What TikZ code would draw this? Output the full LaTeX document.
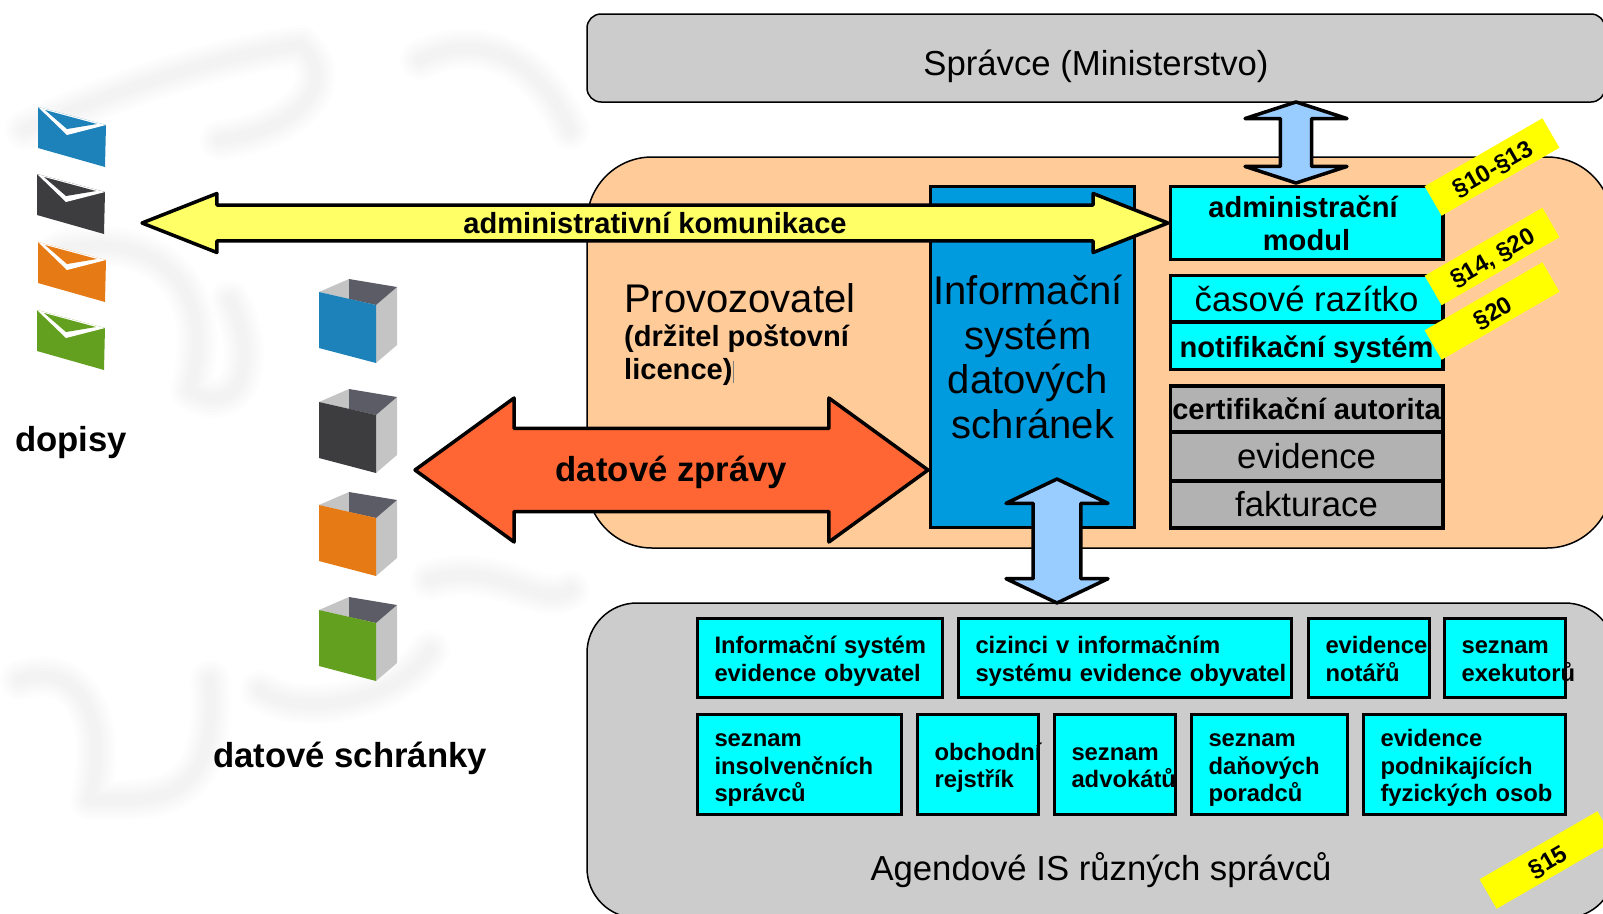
\documentclass[tikz,border=0pt]{standalone}
\usepackage{fontspec}
\setmainfont{Liberation Sans}
\usepackage{tikz}
\usetikzlibrary{positioning}
\usetikzlibrary{shapes.arrows}
\newlength{\hgap}
\newlength{\vgap}
\newcommand{\fbig}{\fontsize{34.7}{40}\selectfont}
\newcommand{\fhuge}{\fontsize{40}{44.5}\selectfont}
\newcommand{\fmid}{\fontsize{29.1}{33}\selectfont\bfseries}
\newcommand{\fsmall}{\fontsize{23.8}{27.5}\selectfont\bfseries}
\newcommand{\ftag}{\fontsize{24}{26}\selectfont\bfseries}
\definecolor{peach}{HTML}{FFCC99}
\definecolor{panel}{HTML}{CCCCCC}
\definecolor{isblue}{HTML}{009ADF}
\definecolor{boxcyan}{HTML}{00FFFF}
\definecolor{skyarrow}{HTML}{99CCFF}
\definecolor{yelarrow}{HTML}{FFFF66}
\definecolor{orarrow}{HTML}{FF6633}
\definecolor{greybox}{HTML}{B2B2B2}
\definecolor{tagyellow}{HTML}{FFFF00}
\definecolor{icoblue}{HTML}{1E82BA}
\definecolor{icodark}{HTML}{3D3D40}
\definecolor{icoorange}{HTML}{E67A14}
\definecolor{icogreen}{HTML}{64A020}
\definecolor{icoback}{HTML}{5C5C66}
\definecolor{icoside}{HTML}{C4C4C4}
\tikzstyle{plate}=[draw, rectangle, line width=1.5pt, outer sep=0pt]
\tikzstyle{modul}=[draw, rectangle, fill=boxcyan, line width=3.5pt, outer sep=0pt, inner sep=0pt, minimum width=272.5pt, align=center]
\tikzstyle{service}=[modul, fill=greybox]
\tikzstyle{agbox}=[draw, rectangle, fill=boxcyan, line width=3pt, outer sep=0pt, inner sep=0pt, align=left, font=\fsmall, execute at begin node={\leftskip=17pt\rule{0pt}{26pt}}, execute at end node={\rule[-7pt]{0pt}{7pt}}]
\tikzstyle{tag}=[fill=tagyellow, rectangle, rotate=30, minimum width=136pt, minimum height=34pt, inner sep=0pt, font=\ftag, execute at begin node={\rule{0pt}{22pt}}]
\tikzstyle{block}=[draw, double arrow, line width=3.5pt, inner sep=0pt, outer sep=0pt, line join=round]
\tikzstyle{caption}=[inner sep=0pt, font=\fbig]
\tikzset{
	pics/envelope/.style={code={
		\fill [#1] (0,0) -- (68,18) -- (67,60) -- (0,41) -- cycle;
		\fill [white] (0,0) -- (68,18) -- (29,28) -- cycle;
		\fill [#1] (7,3) -- (59,17) -- (29,22) -- cycle;
	}},
	pics/mailbox/.style={code={
		\fill [icoside] (57,13) -- (78,-5) -- (78,53) -- (57,71) -- cycle;
		\fill [icoside] (0,0) -- (30,-13) -- (30,7) -- cycle;
		\fill [icoback] (30,-13) -- (78,-5) -- (57,13) -- (30,7) -- cycle;
		\fill [#1] (0,0) -- (57,13) -- (57,71) -- (0,56) -- cycle;
	}}
}

\begin{document}
\begin{tikzpicture}[x=1pt, y=-1pt]
	
	\setlength{\hgap}{16pt}
	\setlength{\vgap}{17pt}
	
	\useasboundingbox (0,0) rectangle (1603,913);
	
	% faint backdrop
	\foreach \w in {40,34,28,22,16,10} {
		\begin{scope}[black, opacity=0.006, line width=\w pt, line cap=round, line join=round]
			\draw (25,130) .. controls (120,90) and (200,60) .. (300,45) .. controls (340,80) and (300,130) .. (220,140);
			\draw (60,250) .. controls (150,230) and (220,280) .. (190,390) .. controls (240,420) and (260,360) .. (230,300);
			\draw (20,680) .. controls (80,660) and (110,720) .. (90,800) .. controls (150,800) and (220,810) .. (210,680);
			\draw (260,690) .. controls (300,720) and (400,700) .. (430,650);
			\draw (420,60) .. controls (480,30) and (540,60) .. (570,130);
			\draw (430,580) .. controls (500,560) and (540,610) .. (570,590);
		\end{scope}
	}
	
	% icons
	\pic at (38,107) {envelope=icoblue};
	\pic at (37,174) {envelope=icodark};
	\pic at (38,242) {envelope=icoorange};
	\pic at (37,310) {envelope=icogreen};
	
	\pic at (319,292) {mailbox=icoblue};
	\pic at (319,402) {mailbox=icodark};
	\pic at (319,505) {mailbox=icoorange};
	\pic at (319,610) {mailbox=icogreen};
	
	\node (dopisy) [caption] at (71,443) {\bfseries dopisy};
	\node (schranky) [caption] at (350,758) {\bfseries datové schránky};
	
	% panels
	\node (spravce) [plate, fill=panel, rounded corners=14pt, minimum width=1018pt, minimum height=88pt] at (1096,58) {};
	\node (spravceT) [caption] at (1096,66) {Správce (Ministerstvo)};
	
	\node (provoz) [plate, fill=peach, rounded corners=65pt, minimum width=1025pt, minimum height=391pt] at (1099.5,352.5) {};
	\node (provozT) [caption, font=\fhuge, anchor=west] at (624,298) {Provozovatel};
	\node (drzitel) [caption, font=\fmid, anchor=north west, align=left] at (624,325) {(držitel poštovní\\licence)};
	\draw [gray, line width=0.7pt] (733,361) -- (733,383);
	
	\node (agenda) [plate, fill=panel, rounded corners=50pt, minimum width=1028pt, minimum height=315pt] at (1101,760.5) {};
	\node (agendaT) [caption] at (1101,870) {Agendové IS různých správců};
	
	% blue system
	\node (isds) [draw, rectangle, fill=isblue, line width=3.5pt, outer sep=0pt, minimum width=204pt, minimum height=341pt] at (1032.5,357) {};
	\node (isdsT) [caption, font=\fhuge, align=center] at (1028,357) {Informační\\systém\\datových\\\hspace*{10pt}schránek};
	
	% module column
	\node (admin) [modul, minimum height=73pt, font=\fmid] at (1306.5,223) {administrační\hspace*{7pt}\\modul};
	\node (razitko) [modul, below=\hgap of admin, minimum height=46.5pt, font=\fbig] {časové razítko};
	\node (notif) [modul, below=0pt of razitko, minimum height=47.5pt, font=\fmid] {\rule{0pt}{29pt}notifikační systém};
	\node (cert) [service, below=16.5pt of notif, minimum height=46pt, font=\fmid] {certifikační autorita};
	\node (evid) [service, below=0pt of cert, minimum height=49pt, font=\fbig] {evidence};
	\node (faktura) [service, below=0pt of evid, minimum height=47pt, font=\fbig] {fakturace};
	
	% agenda registers
	\node (ieo) [agbox, text width=245pt, minimum height=79pt, anchor=north west] at (697.5,618.5) {Informační systém\\evidence obyvatel};
	\node (cizinci) [agbox, text width=333pt, minimum height=79pt, right=\hgap of ieo] {cizinci v informačním\\systému evidence obyvatel};
	\node (notari) [agbox, text width=121pt, minimum height=79pt, right=\vgap of cizinci] {evidence\\notářů};
	\node (exekutori) [agbox, text width=121pt, minimum height=79pt, right=15pt of notari] {seznam\\exekutorů};
	
	\node (insolv) [agbox, text width=204pt, minimum height=100pt, below=\vgap of ieo.south west, anchor=north west] {seznam\\insolvenčních\\správců};
	\node (rejstrik) [agbox, text width=121pt, minimum height=100pt, right=\hgap of insolv] {obchodní\\rejstřík};
	\node (advokati) [agbox, text width=121pt, minimum height=100pt, right=\hgap of rejstrik] {seznam\\advokátů};
	\node (poradci) [agbox, text width=156pt, minimum height=100pt, right=\hgap of advokati] {seznam\\daňových\\poradců};
	\node (osoby) [agbox, text width=202pt, minimum height=100pt, right=\hgap of poradci] {evidence\\podnikajících\\fyzických osob};
	
	% block arrows
	\node (zpravy) [block, fill=orarrow, minimum height=513pt, minimum width=144pt, double arrow head extend=15.3pt, double arrow tip angle=72, font=\fbig\bfseries] at (671.5,470) {\rule{0pt}{31pt}datové zprávy};
	\node (komunikace) [block, fill=yelarrow, minimum height=1026pt, minimum width=59pt, double arrow head extend=8.1pt, double arrow tip angle=43, font=\fmid] at (655,223) {administrativní komunikace};
	\node (arrTop) [block, fill=skyarrow, rotate=90, minimum height=81pt, minimum width=102pt, double arrow head extend=4pt, double arrow tip angle=144] at (1296,142.5) {};
	\node (arrLow) [block, fill=skyarrow, rotate=90, minimum height=124pt, minimum width=102pt, double arrow head extend=2pt, double arrow tip angle=129] at (1057,541) {};
	
	% paragraph tags
	\node (tagA) [tag] at (1492,167) {§10-§13};
	\node (tagB) [tag] at (1492,256.5) {§14, §20};
	\node (tagC) [tag] at (1492,311) {§20};
	\node (tagD) [tag] at (1547,860) {§15};
	
\end{tikzpicture}
\end{document}
